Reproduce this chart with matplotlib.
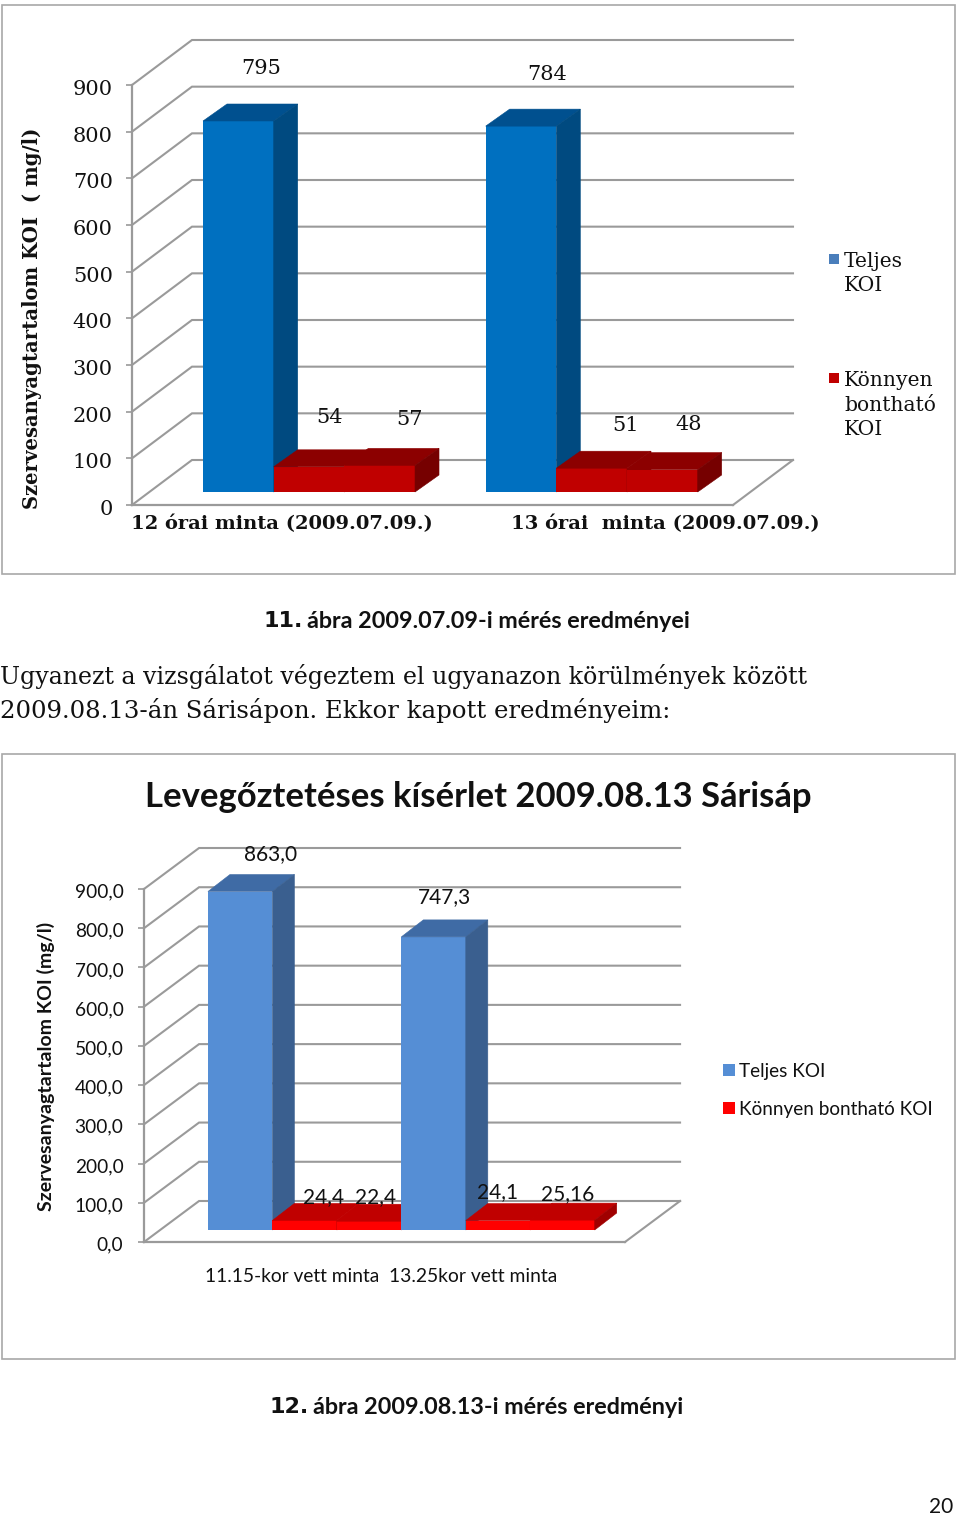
import matplotlib
matplotlib.use('Agg')
import matplotlib.pyplot as plt
from matplotlib.patches import Rectangle
from matplotlib.transforms import ScaledTranslation

W, H = 960, 1517

# chart 1
cats1 = ['12 órai minta (2009.07.09.)', '13 órai  minta (2009.07.09.)']
teljes1 = [795, 784]
konnyen1a = [54, 51]
konnyen1b = [57, 48]
yticks1 = [0, 100, 200, 300, 400, 500, 600, 700, 800, 900]

# chart 2
cats2 = ['11.15-kor vett minta', '13.25kor vett minta']
teljes2 = [863.0, 747.3]
konnyen2a = [24.4, 24.1]
konnyen2b = [22.4, 25.16]
labels2 = ['863,0', '24,4', '22,4', '747,3', '24,1', '25,16']
yticks2 = [0, 100, 200, 300, 400, 500, 600, 700, 800, 900]

SERIF = 'DejaVu Serif'
SANS = 'Lato'
GRID = '#9a9a9a'

fig = plt.figure(figsize=(W / 100, H / 100), dpi=100, facecolor='white')


def make_axes(left, right, top, bottom):
    return fig.add_axes([left / W, 1 - bottom / H, (right - left) / W, (bottom - top) / H])


def wall(ax, ticks, ddx, ddy, font, size, pad, fmt, shift):
    # gridlines run from the front axis back along the wall and across
    x0, x1 = ax.get_xlim()
    for v in ticks:
        ax.plot([x0, x0 + ddx, x1 + ddx], [v, v + ddy, v + ddy], color=GRID, lw=1.5,
                clip_on=False, zorder=1, solid_joinstyle='miter')
    ax.plot([x1, x1 + ddx], [0, ddy], color=GRID, lw=1.5, clip_on=False, zorder=1)
    ax.set_ylim(0, ticks[-1])
    ax.set_yticks(ticks)
    ax.set_yticklabels([fmt(v) for v in ticks], fontfamily=font, fontsize=size, color='#111111')
    ax.tick_params(axis='y', length=4.3, width=1.2, color=GRID, pad=pad)
    # tick labels sit a little below their gridlines
    for lab in ax.get_yticklabels():
        lab.set_transform(lab.get_transform() + ScaledTranslation(0, -shift / 100, fig.dpi_scale_trans))
    ax.set_xticks([])
    for s in ['top', 'right']:
        ax.spines[s].set_visible(False)
    for s in ['left', 'bottom']:
        ax.spines[s].set_color(GRID)
        ax.spines[s].set_linewidth(1.6)
    ax.patch.set_alpha(0)


def box(ax, x, h, base, ddx, ddy, cols, z):
    # front face, then lid and right side offset by the depth
    front, lid, side = cols
    ax.bar(x, h, width=1, bottom=base, align='edge', color=front, clip_on=False, zorder=z)
    t = base + h
    ax.fill([x, x + ddx, x + 1 + ddx, x + 1], [t, t + ddy, t + ddy, t], fc=lid, ec=lid, lw=0.4,
            clip_on=False, zorder=z)
    ax.fill([x + 1, x + 1 + ddx, x + 1 + ddx, x + 1], [base, base + ddy, t + ddy, t], fc=side,
            ec=side, lw=0.4, clip_on=False, zorder=z)


def label(ax, text, x, y, off, font, size):
    ax.annotate(text, xy=(x, y), xytext=off, textcoords='offset pixels', ha='center', va='center',
                fontfamily=font, fontsize=size, color='#111111', annotation_clip=False, zorder=50)


# ---- chart 1 ----
ax1 = make_axes(132, 733, 85, 505)
ax1.set_xlim(-1.005, 7.5)
px1 = 420 / 900
wall(ax1, yticks1, 60 / 70.67, 45 / px1, SERIF, 15, 9.5, lambda v: str(v), 2.5)
blue1 = ('#0070c0', '#00508f', '#004a80')
red1 = ('#c00000', '#8c0000', '#760000')
red1_inner = ('#c00000', '#8c0000', '#8c0000')
base1 = 13 / px1
dx1, dy1 = 24 / 70.67, 17 / px1
off1 = [[(22.5, 52), (20.5, 49), (30, 46)], [(26.5, 52), (33.5, 43), (26, 45)]]
for i, start in enumerate([0, 4]):
    box(ax1, start, teljes1[i], base1, dx1, dy1, blue1, 3 + i * 3)
    box(ax1, start + 1, konnyen1a[i], base1, dx1, dy1, red1_inner, 4 + i * 3)
    box(ax1, start + 2, konnyen1b[i], base1, dx1, dy1, red1, 5 + i * 3)
    vals = [teljes1[i], konnyen1a[i], konnyen1b[i]]
    for j, v in enumerate(vals):
        label(ax1, str(v), start + j + 0.5, base1 + v, off1[i][j], SERIF, 15)

# ---- chart 2 ----
ax2 = make_axes(144, 625, 889, 1242)
ax2.set_xlim(-0.992, 6.47)
px2 = 353 / 900
wall(ax2, yticks2, 55 / 64.4, 41 / px2, SANS, 13.8, 10.5, lambda v: f'{v},0', 1.5)
blue2 = ('#558ed5', '#3f6ba5', '#3a5f8f')
red2 = ('#ff0000', '#c00000', '#a00000')
red2_inner = ('#ff0000', '#c00000', '#c00000')
base2 = 12 / px2
dx2, dy2 = 22 / 64.4, 17 / px2
off2 = [[(30, 37), (18.5, 23), (6, 24)], [(10.5, 40), (0, 28), (5.5, 26)]]
for i, start in enumerate([0, 3]):
    box(ax2, start, teljes2[i], base2, dx2, dy2, blue2, 3 + i * 3)
    box(ax2, start + 1, konnyen2a[i], base2, dx2, dy2, red2_inner, 4 + i * 3)
    box(ax2, start + 2, konnyen2b[i], base2, dx2, dy2, red2, 5 + i * 3)
    vals = [teljes2[i], konnyen2a[i], konnyen2b[i]]
    for j in range(3):
        label(ax2, labels2[i * 3 + j], start + j + 0.5, base2 + vals[j], off2[i][j], SANS, 15)

# ---- page: frames, captions, body text, legends, in pixel coordinates ----
page = fig.add_axes([0, 0, 1, 1], zorder=10)
page.set_xlim(0, W)
page.set_ylim(H, 0)
page.axis('off')
page.patch.set_alpha(0)

page.add_patch(Rectangle((2, 5), 953, 569, fill=False, ec='#a8a8a8', lw=1.2))
page.add_patch(Rectangle((2, 754), 953, 605, fill=False, ec='#a8a8a8', lw=1.2))


def put(x, y, s, font, size, **kw):
    kw.setdefault('va', 'center')
    kw.setdefault('color', '#111111')
    page.text(x, y, s, fontfamily=font, fontsize=size, **kw)


# chart 1 texts
put(32, 318, 'Szervesanyagtartalom KOI  ( mg/l)', SERIF, 14.1, rotation=90, ha='center', weight='bold')
put(131, 524, cats1[0], SERIF, 14, weight='bold')
put(511, 524, cats1[1], SERIF, 14, weight='bold')
page.add_patch(Rectangle((829, 254), 10, 10, color='#4a7ebb', lw=0))
put(844, 261, 'Teljes', SERIF, 14.6)
put(844, 285, 'KOI', SERIF, 14.6)
page.add_patch(Rectangle((829, 373), 10, 10, color='#c00000', lw=0))
put(844, 380, 'Könnyen', SERIF, 14.6)
put(844, 405, 'bontható', SERIF, 14.6)
put(844, 429, 'KOI', SERIF, 14.6)

# captions and body
put(263, 621, '11.', 'DejaVu Sans', 16, weight='bold')
put(307, 621, 'ábra 2009.07.09-i mérés eredményei', SANS, 16.85, weight='bold')
put(0, 676, 'Ugyanezt a vizsgálatot végeztem el ugyanazon körülmények között', SERIF, 17.14)
put(0, 710, '2009.08.13-án Sárisápon. Ekkor kapott eredményeim:', SERIF, 17.6)
put(269, 1407, '12.', 'DejaVu Sans', 16, weight='bold')
put(313, 1407, 'ábra 2009.08.13-i mérés eredményi', SANS, 16.85, weight='bold')
put(953, 1507, '20', SANS, 15, ha='right')

# chart 2 texts
put(478, 797, 'Levegőztetéses kísérlet 2009.08.13 Sárisáp', SANS, 24.95, ha='center', weight='bold')
put(46, 1066, 'Szervesanyagtartalom KOI (mg/l)', SANS, 14, rotation=90, ha='center', weight='bold')
put(205, 1276, cats2[0], SANS, 13.75)
put(389, 1276, cats2[1], SANS, 13.9)
page.add_patch(Rectangle((723, 1064), 12, 12, color='#558ed5', lw=0))
put(739, 1071, 'Teljes KOI', SANS, 13.6)
page.add_patch(Rectangle((723, 1102), 12, 12, color='#ff0000', lw=0))
put(739, 1109, 'Könnyen bontható KOI', SANS, 13.6)

fig.savefig('out.png', dpi=100)
